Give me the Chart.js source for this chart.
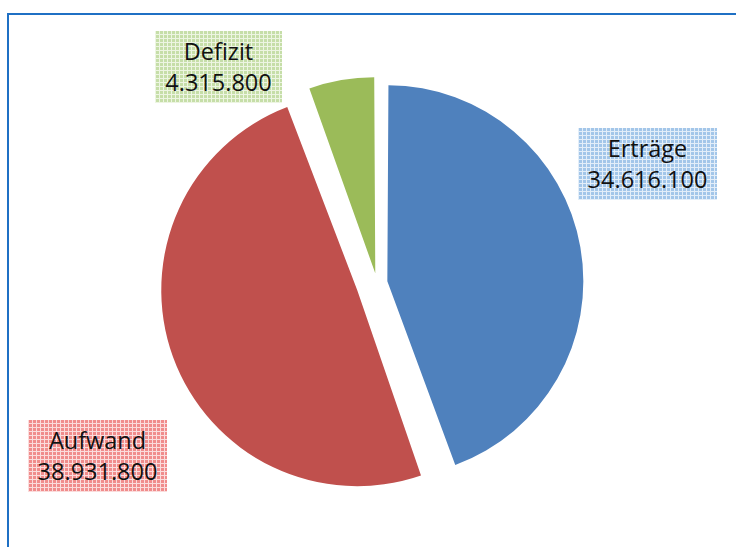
<!DOCTYPE html>
<html>
<head>
<meta charset="utf-8">
<script src="https://cdn.jsdelivr.net/npm/chart.js@4/dist/chart.umd.min.js"></script>
<style>
  html, body { margin: 0; padding: 0; background: #fff; }
  #wrap { position: relative; width: 736px; height: 547px; overflow: hidden; }
  #frame {
    position: absolute; left: 7px; top: 13px; width: 800px; height: 600px;
    border-left: 2px solid #1f70c4; border-top: 2px solid #1f70c4;
    box-sizing: border-box;
  }
  #c { position: absolute; left: 0; top: 0; }
  .lbl {
    position: absolute; text-align: center;
    font-family: "Open Sans", sans-serif; font-size: 23.5px; line-height: 31px;
    color: #111; box-sizing: border-box; padding-top: 5px;
    background-size: 4px 4px;
  }
</style>
</head>
<body>
<div id="wrap">
  <div id="frame"></div>
  <canvas id="c" width="736" height="547"></canvas>
</div>
<script>
// ── Haushalt: Erträge / Aufwand / Defizit ──
const labels  = ['Erträge', 'Aufwand', 'Defizit'];
const values  = [34616100, 38931800, 4315800];
const colors  = ['#4f81bd', '#c0504d', '#9bbb59'];
// Chart.js moves an arc by offset/4, so these explode by ~10 / 21 / 10 px
const offsets = [42, 84, 40];
const RADIUS  = 196;

// label boxes (dotted fill like the Excel original)
const boxes = [
  { left: 578, top: 128, w: 139, h: 72, base: '#a3c6e9', line: '#e3eef9' },
  { left: 28,  top: 420, w: 139, h: 72, base: '#f08c8c', line: '#fbdcdc' },
  { left: 155, top: 31,  w: 127, h: 72, base: '#c6dea8', line: '#edf5e2' },
];

const fmt = v => v.toLocaleString('de-DE');

boxes.forEach((b, i) => {
  const d = document.createElement('div');
  d.className = 'lbl';
  d.style.left = b.left + 'px';
  d.style.top = b.top + 'px';
  d.style.width = b.w + 'px';
  d.style.height = b.h + 'px';
  d.style.backgroundColor = b.base;
  d.style.backgroundImage =
    `linear-gradient(90deg, ${b.line} 1px, transparent 1px),` +
    `linear-gradient(0deg, ${b.line} 1px, transparent 1px)`;
  d.innerHTML = labels[i] + '<br>' + fmt(values[i]);
  document.getElementById('wrap').appendChild(d);
});

// Chart.js also grows exploded arcs by offset/4 * (1 - sin(circ)); undo that
// so every slice keeps the same radius like in Excel
const keepRadius = {
  id: 'keepRadius',
  beforeDatasetsDraw(chart) {
    chart.getDatasetMeta(0).data.forEach((arc, i) => {
      const fix = 1 - Math.sin(Math.min(Math.PI, arc.circumference));
      arc.outerRadius = RADIUS - offsets[i] / 4 * fix;
    });
  }
};

new Chart(document.getElementById('c'), {
  type: 'pie',
  data: {
    labels,
    datasets: [{
      data: values,
      backgroundColor: colors,
      borderWidth: 0,
      offset: offsets,
    }]
  },
  options: {
    responsive: false,
    animation: false,
    radius: RADIUS,
    layout: { padding: { left: 18, top: 19 } },
    plugins: { legend: { display: false }, tooltip: { enabled: false } }
  },
  plugins: [keepRadius]
});
</script>
</body>
</html>
